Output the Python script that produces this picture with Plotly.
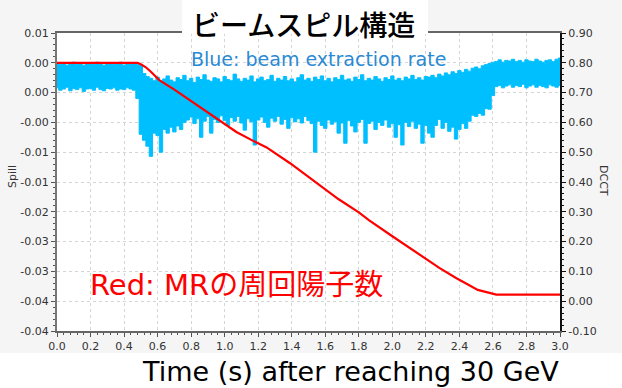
import numpy as np
import plotly.graph_objects as go

# ---------------- data ----------------
time_step = 0.02
spill_upper = [
    0.0049, 0.0047, 0.0050, 0.0046, 0.0048, 0.0051, 0.0047, 0.0049, 0.0046, 0.0050,
    0.0048, 0.0047, 0.0051, 0.0048, 0.0046, 0.0049, 0.0050, 0.0047, 0.0048, 0.0051,
    0.0046, 0.0049, 0.0048, 0.0050, 0.0047, 0.0046,
    0.0032, 0.0027, 0.0024, 0.0020, 0.0026, 0.0019, 0.0023, 0.0028, 0.0021, 0.0018,
    0.0025, 0.0022, 0.0029, 0.0020, 0.0024, 0.0017, 0.0026, 0.0022, 0.0030, 0.0021,
    0.0019, 0.0025, 0.0023, 0.0018, 0.0027, 0.0022, 0.0020, 0.0031, 0.0023, 0.0019,
    0.0024, 0.0021, 0.0028, 0.0018, 0.0023, 0.0026, 0.0020, 0.0022, 0.0029, 0.0019,
    0.0024, 0.0021, 0.0027, 0.0020, 0.0023, 0.0018, 0.0025, 0.0030, 0.0021, 0.0024,
    0.0019, 0.0026, 0.0022, 0.0028, 0.0020, 0.0024, 0.0018, 0.0025, 0.0022, 0.0029,
    0.0021, 0.0023, 0.0019, 0.0026, 0.0022, 0.0030, 0.0020, 0.0024, 0.0021, 0.0027,
    0.0023, 0.0019, 0.0025, 0.0022, 0.0028, 0.0021, 0.0024, 0.0020, 0.0026, 0.0023,
    0.0029, 0.0022, 0.0025, 0.0021, 0.0027,
    0.0026, 0.0029, 0.0025, 0.0031, 0.0028, 0.0033, 0.0030, 0.0035, 0.0032, 0.0037,
    0.0034, 0.0039, 0.0036, 0.0041, 0.0043, 0.0040, 0.0045, 0.0047, 0.0049, 0.0051,
    0.0052, 0.0055, 0.0051, 0.0054, 0.0053, 0.0056, 0.0052, 0.0054, 0.0051, 0.0055,
    0.0053, 0.0052, 0.0056, 0.0053, 0.0051, 0.0054, 0.0055, 0.0052, 0.0056, 0.0058,
]
spill_lower = [
    0.0008, 0.0004, 0.0006, 0.0009, 0.0003, 0.0007, 0.0005, 0.0008, 0.0002, 0.0006,
    0.0007, 0.0004, 0.0009, 0.0005, 0.0003, 0.0007, 0.0006, 0.0008, 0.0004, 0.0006,
    0.0005, 0.0008, 0.0006, 0.0004,
    -0.0010, -0.0070, -0.0080, -0.0090, -0.0107, -0.0068, -0.0072, -0.0100, -0.0062, -0.0068,
    -0.0058, -0.0066, -0.0056, -0.0062, -0.0050,
    -0.0046, -0.0041, -0.0052, -0.0044, -0.0075, -0.0048, -0.0040, -0.0068, -0.0045, -0.0050,
    -0.0039, -0.0047, -0.0055, -0.0042, -0.0048, -0.0040, -0.0051, -0.0063, -0.0044, -0.0049,
    -0.0088, -0.0046, -0.0041, -0.0050, -0.0058, -0.0043, -0.0048, -0.0040, -0.0053, -0.0045,
    -0.0060, -0.0042, -0.0049, -0.0044, -0.0051, -0.0040, -0.0047,
    -0.0052, -0.0100, -0.0048, -0.0055, -0.0060, -0.0046, -0.0053, -0.0049, -0.0068, -0.0051,
    -0.0085, -0.0047, -0.0056, -0.0066, -0.0050, -0.0045, -0.0085, -0.0052, -0.0048, -0.0062,
    -0.0050, -0.0055, -0.0046, -0.0058, -0.0052, -0.0075, -0.0054, -0.0088, -0.0050, -0.0057,
    -0.0048, -0.0060, -0.0053, -0.0085, -0.0055, -0.0068,
    -0.0075, -0.0055, -0.0045, -0.0060, -0.0050, -0.0065, -0.0058, -0.0078, -0.0062, -0.0052,
    -0.0060, -0.0048, -0.0038, -0.0040, -0.0035, -0.0038, -0.0027, -0.0028, -0.0005,
    0.0010, 0.0012, 0.0008, 0.0011, 0.0013, 0.0009, 0.0012, 0.0010, 0.0014, 0.0008,
    0.0011, 0.0013, 0.0009, 0.0012, 0.0010, 0.0008, 0.0013, 0.0011, 0.0009, 0.0012,
]
assert len(spill_upper) == 151 and len(spill_lower) == 151
spill_time = [round(i * time_step, 2) for i in range(len(spill_upper))]

dcct_time = [0, 0.48, 0.50, 0.53, 0.56, 0.61, 0.70, 0.85, 1.0, 1.07, 1.17, 1.25, 1.39,
             1.52, 1.58, 1.68, 1.80, 1.86, 2.0, 2.18, 2.28, 2.38, 2.46, 2.51, 2.55,
             2.59, 2.62, 3.0]
dcct_value = [0.80, 0.80, 0.795, 0.785, 0.77, 0.742, 0.71, 0.652, 0.595, 0.568, 0.538,
              0.516, 0.463, 0.410, 0.385, 0.342, 0.298, 0.272, 0.218, 0.150, 0.112,
              0.078, 0.052, 0.038, 0.032, 0.027, 0.022, 0.022]

spill_tickvals = [0.01, 0.005, 0.0, -0.005, -0.01, -0.015, -0.02, -0.025, -0.03, -0.035, -0.04]
spill_ticktext = ["0.01", "0.00", "0.00", "-0.00", "-0.01", "-0.01", "-0.02", "-0.03",
                  "-0.03", "-0.04", "-0.04"]
dcct_tickvals = [0.9, 0.8, 0.7, 0.6, 0.5, 0.4, 0.3, 0.2, 0.1, 0.0, -0.1]
dcct_ticktext = ["0.90", "0.80", "0.70", "0.60", "0.50", "0.40", "0.30", "0.20", "0.10",
                 "0.00", "-0.10"]
time_tickvals = [0.0, 0.2, 0.4, 0.6, 0.8, 1.0, 1.2, 1.4, 1.6, 1.8, 2.0, 2.2, 2.4, 2.6, 2.8, 3.0]
time_ticktext = [f"{v:.1f}" for v in time_tickvals]

# ---------------- layout helpers ----------------
W, H = 622, 388
ML, MR, MT, MB = 57, 62, 33, 57
PW, PH = W - ML - MR, H - MT - MB


def px(xp):
    return (xp - ML) / PW


def py(yp):
    return (H - MB - yp) / PH


BLUE = "#00bfff"
RED = "#ff0000"
TICKFONT = dict(family="DejaVu Sans", size=11, color="#333333")
LATIN_CJK = "DejaVu Sans, Noto Sans CJK JP"

fig = go.Figure()
fig.add_trace(go.Scatter(
    x=spill_time + spill_time[::-1],
    y=spill_upper + spill_lower[::-1],
    mode="lines", fill="toself", fillcolor=BLUE, line_shape="hvh",
    line=dict(color=BLUE, width=1), yaxis="y", hoverinfo="skip", showlegend=False,
))
fig.add_trace(go.Scatter(
    x=dcct_time, y=dcct_value, mode="lines",
    line=dict(color=RED, width=2.2), yaxis="y2", showlegend=False,
))

grid = dict(showgrid=True, gridcolor="#d4d4d4", griddash="dot", gridwidth=1)

fig.update_layout(
    width=W, height=H,
    margin=dict(l=ML, r=MR, t=MT, b=MB),
    paper_bgcolor="#f5f5f5", plot_bgcolor="white",
    xaxis=dict(range=[0, 3.0], tickmode="array", tickvals=time_tickvals,
               ticktext=time_ticktext, tickfont=TICKFONT, ticks="outside",
               ticklen=4, tickcolor="#555555", showline=True, linecolor="#666666",
               linewidth=2, mirror=True, zeroline=False,
               minor=dict(ticks="outside", ticklen=2, dtick=0.04, tick0=0,
                          tickcolor="#555555", showgrid=False),
               **grid),
    yaxis=dict(range=[-0.04, 0.01], tickmode="array", tickvals=spill_tickvals,
               ticktext=spill_ticktext, tickfont=TICKFONT, ticks="outside",
               ticklen=4, tickcolor="#555555", showline=True, linecolor="#777777",
               linewidth=2, zeroline=False,
               minor=dict(ticks="outside", ticklen=2, dtick=0.001, tick0=0,
                          tickcolor="#555555", showgrid=False),
               **grid),
    yaxis2=dict(range=[-0.10, 0.90], overlaying="y", side="right", tickmode="array",
                tickvals=dcct_tickvals, ticktext=dcct_ticktext, tickfont=TICKFONT,
                ticks="outside", ticklen=4, tickcolor="#111111", showline=True,
                linecolor="#111111", linewidth=2, zeroline=False, showgrid=False,
                minor=dict(ticks="outside", ticklen=2, dtick=0.02, tick0=0,
                           tickcolor="#111111", showgrid=False)),
    shapes=[
        dict(type="rect", xref="paper", yref="paper", x0=px(-5), x1=px(W + 5),
             y0=py(353), y1=py(H + 5), fillcolor="white", line=dict(width=0),
             layer="below"),
        dict(type="rect", xref="paper", yref="paper", x0=px(182), x1=px(428),
             y0=py(34), y1=py(-2), fillcolor="white", line=dict(width=0),
             layer="above"),
    ],
    annotations=[
        dict(text="ビームスピル構造", x=px(303), y=py(24), xref="paper", yref="paper",
             showarrow=False, xanchor="center", yanchor="middle",
             font=dict(family="Noto Sans CJK JP", size=28, color="black", weight=500)),
        dict(text="Blue: beam extraction rate", x=px(318), y=py(59), xref="paper",
             yref="paper", showarrow=False, xanchor="center", yanchor="middle",
             font=dict(family="DejaVu Sans", size=19, color="#2a8ad4")),
        dict(text="Red: MRの周回陽子数", x=px(236), y=py(285), xref="paper",
             yref="paper", showarrow=False, xanchor="center", yanchor="middle",
             font=dict(family=LATIN_CJK, size=29, color=RED)),
        dict(text="Time (s) after reaching 30 GeV", x=px(350), y=py(387.5), xref="paper",
             yref="paper", showarrow=False, xanchor="center", yanchor="bottom",
             borderpad=0,
             font=dict(family="DejaVu Sans", size=27, color="black")),
        dict(text="Spill", x=px(12), y=py(177), xref="paper", yref="paper",
             showarrow=False, textangle=-90, xanchor="center", yanchor="middle",
             font=dict(family="DejaVu Sans", size=11, color="#333333")),
        dict(text="DCCT", x=px(604), y=py(180), xref="paper", yref="paper",
             showarrow=False, textangle=90, xanchor="center", yanchor="middle",
             font=dict(family="DejaVu Sans", size=11, color="#333333")),
    ],
)

fig.write_html("out.html", config={"displayModeBar": False},
               post_script="document.body.style.margin='0';")
